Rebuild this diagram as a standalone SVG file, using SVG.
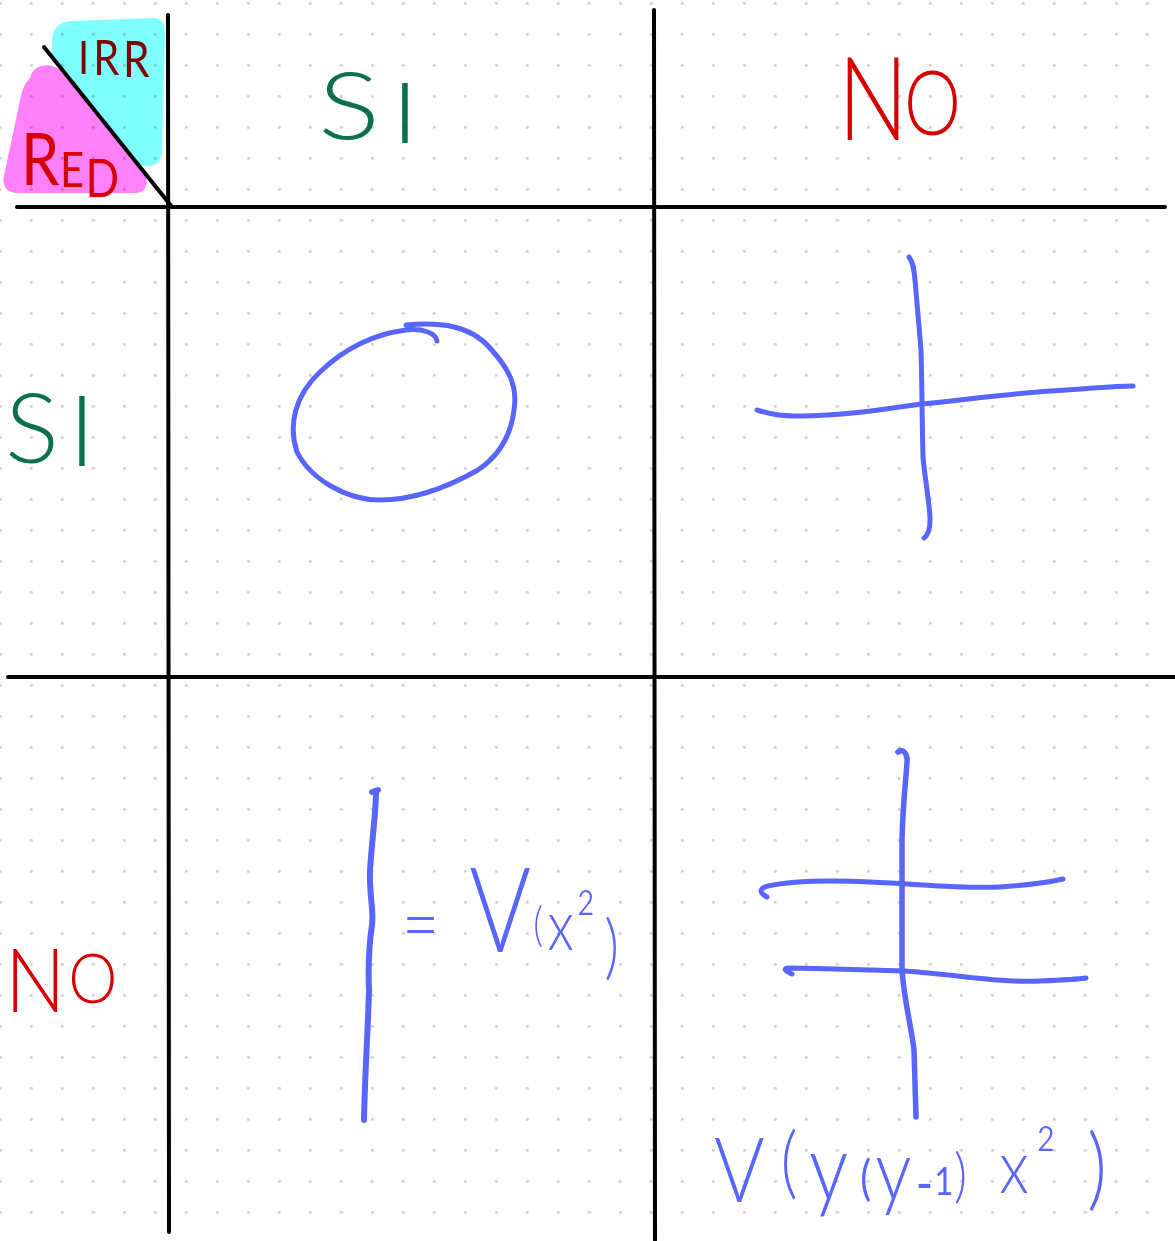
<svg xmlns="http://www.w3.org/2000/svg" width="1175" height="1241" viewBox="0 0 1175 1241">
<defs>
<pattern id="dots" patternUnits="userSpaceOnUse" x="-15.2" y="-12.2" width="31" height="31"><circle cx="15.5" cy="15.5" r="1.6" fill="#cdcdcd"/></pattern>
</defs>
<style>
.grid{stroke:#000;stroke-width:4;stroke-linecap:round;fill:none}
.ink{stroke:#5865ff;stroke-width:5;stroke-linecap:round;stroke-linejoin:round;fill:none}
.hand{font-family:Lato,"Liberation Sans",sans-serif;font-weight:300}
.reg{font-weight:400}
.blue{fill:#5865ff}
.green{fill:#0a7050}
.red{fill:#d60000}
.dred{fill:#7d0606}
.hl{mix-blend-mode:multiply}
</style>
<rect width="1175" height="1241" fill="#fff"/>
<rect width="1175" height="1241" fill="url(#dots)"/>

<g id="corner-highlights">
<path class="hl" fill="#80ffff" d="M52,58 L52,42 C52,28 58,22 72,21 L152,18 C162,18 166,24 165,34 L162,152 C161,162 156,166 146,166 L138,165 Z"/>
<path class="hl" fill="#ff80f8" d="M30,78 C32,68 42,63 52,66 C56,67 58,69 61,70 L146,175 C148,185 146,192 135,193 L18,193 C6,193 2,186 4,176 L20,100 C22,90 25,83 30,78 Z"/>
</g>

<g id="grid-lines">
<line class="grid" x1="17" y1="207" x2="1165" y2="207"/>
<line class="grid" x1="8" y1="677" x2="1175" y2="677"/>
<line class="grid" x1="168" y1="15" x2="169" y2="1232"/>
<line class="grid" x1="654" y1="10" x2="655" y2="1240"/>
<line class="grid" x1="44" y1="47" x2="172" y2="207"/>
</g>

<g id="label-irr"><text class="hand reg dred" transform="translate(78,0) scale(0.85,1)"><tspan x="0" y="74" font-size="47">I</tspan><tspan x="18" y="75" font-size="49">R</tspan><tspan x="53" y="77" font-size="50">R</tspan></text></g>
<g id="label-red"><text class="hand reg red" transform="translate(21,0) scale(0.85,1)"><tspan x="0" y="185" font-size="72">R</tspan><tspan x="46" y="187" font-size="49">E</tspan><tspan x="76" y="197" font-size="52">D</tspan></text></g>

<g id="header-si"><text class="hand green" transform="translate(318,0) scale(1.26,1)"><tspan x="0" y="139" font-size="92">S</tspan><tspan x="58" y="143" font-size="85">I</tspan></text></g>
<g id="header-no"><text class="hand red" transform="translate(838,0) scale(0.8,1)"><tspan x="0" y="140" font-size="116">N</tspan><tspan x="82.6" y="135" font-size="90">O</tspan></text></g>
<g id="row-si"><text class="hand green" transform="translate(5,0) scale(1.05,1)"><tspan x="0" y="463" font-size="96">S</tspan><tspan x="60.6" y="466" font-size="98">I</tspan></text></g>
<g id="row-no"><text class="hand red" transform="translate(5,0) scale(0.9,1)"><tspan x="0" y="1012" font-size="89">N</tspan><tspan x="70.2" y="1003" font-size="69">O</tspan></text></g>

<g id="cell-si-si">
<path class="ink" d="M406,325 C440,322 470,325 490,348 C508,368 518,385 514,410 C511,435 500,455 478,470 C455,483 420,500 380,500 C345,500 310,478 297,452 C288,425 295,395 320,372 C345,348 375,334 406,330 C422,328 436,333 437,341"/>
</g>

<g id="cell-si-no">
<path class="ink" d="M909,257 C913,262 914,268 915,280 L921,350 C922,380 922,420 923,457 C925,480 930,505 930,520 C930,530 928,535 924,538"/>
<path class="ink" d="M757,410 C770,414 780,416 800,416 C840,416 880,410 922,404 C970,399 1010,394 1050,391 C1090,389 1110,386 1133,386"/>
</g>

<g id="cell-no-si">
<path class="ink" style="stroke-width:6" d="M372,792 L378,790 M376,793 C376,810 372,840 370,870 C369,895 374,910 372,925 C369,945 368,965 369,990 C368,1030 365,1070 364,1120"/>
<text class="hand blue" transform="translate(402,0) scale(0.8,1)"><tspan x="0" y="953" font-size="80">=</tspan> <tspan x="84" y="952" font-size="118">V</tspan><tspan x="164" y="941" font-size="47">(</tspan><tspan x="182" y="950" font-size="70">x</tspan><tspan x="218" y="947" font-size="70">²</tspan><tspan x="253" y="971" font-size="70">)</tspan></text>
</g>

<g id="cell-no-no">
<path class="ink" style="stroke-width:5.5" d="M898,752 C902,748 908,753 907,762 C906,780 903,800 902,840 L902,970 C904,1000 912,1030 914,1050 L916,1117"/>
<path class="ink" d="M767,897 C758,892 760,888 768,886 C790,881 830,880 870,882 C920,884 960,889 1000,887 C1030,885 1050,882 1063,879"/>
<path class="ink" d="M792,974 C785,971 782,968 790,968 C830,969 880,970 905,971 C960,975 1000,983 1040,981 C1065,980 1080,979 1086,978"/>
<text class="hand blue" transform="translate(712,0) scale(0.85,1)"><tspan x="2.5" y="1202" font-size="91">V</tspan><tspan x="80.5" y="1189" font-size="78">(</tspan><tspan x="114" y="1200" font-size="92">y</tspan><tspan class="reg" x="174.4" y="1195" font-size="48">(</tspan><tspan x="192" y="1200" font-size="85">y</tspan><tspan class="reg" x="239.7" y="1202" font-size="55">-</tspan><tspan class="reg" x="261.5" y="1195" font-size="39">1</tspan><tspan x="284.6" y="1196" font-size="60">)</tspan><tspan x="338" y="1193" font-size="74">x</tspan><tspan x="381.3" y="1183" font-size="70">²</tspan><tspan x="441.4" y="1199" font-size="90">)</tspan></text>
</g>
</svg>
